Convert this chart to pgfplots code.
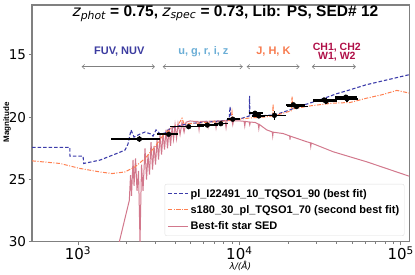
\documentclass[border=0pt]{standalone}
\usepackage{pgfplots}
\pgfplotsset{compat=1.18}
\usepackage{pgfplotstable}
\usepackage{fontspec}
\setmainfont{Liberation Sans}
\newfontfamily\dejavu{DejaVu Sans}
\usetikzlibrary{arrows.meta}
\definecolor{cblue}{RGB}{60,60,170}
\definecolor{corange}{RGB}{255,127,80}
\definecolor{cpink}{RGB}{210,120,140}
\definecolor{tfuv}{RGB}{60,60,160}
\definecolor{tugr}{RGB}{107,174,214}
\definecolor{tjhk}{RGB}{247,123,79}
\definecolor{tch}{RGB}{176,16,72}
\definecolor{frame}{RGB}{128,128,128}

\pgfplotstableread{
x y
519 22.42
891 22.42
891 23.12
1075 23.12
1085 23.71
1369 23.44
1746 22.90
1955 22.64
2041 22.15
2132 21.02
2225 21.59
2423 21.35
2602 21.19
2835 21.35
2917 21.51
3045 21.02
3225 21.35
3462 21.27
3614 21.02
3827 20.86
4290 20.66
4948 20.50
6580 20.38
8152 20.26
8634 20.22
8756 19.15
8882 20.10
10100 20.14
11003 19.98
11520 19.90
11568 18.28
11620 19.81
13440 19.89
16645 19.81
20620 19.41
23785 19.05
26170 18.95
31650 18.60
40000 18.12
48560 17.80
61000 17.40
112700 16.59
}\bluefit

\pgfplotstableread{
x y
519 23.50
773 23.71
1029 24.11
1369 24.39
1624 24.52
1955 24.39
2256 23.98
2602 23.31
3000 22.37
3318 21.56
3746 20.89
4169 20.62
4413 20.08
4542 20.54
5706 20.46
7592 20.34
8882 20.22
9006 19.57
9135 20.22
11650 20.06
14430 19.98
16050 19.90
16180 18.93
16300 19.90
20920 19.49
21220 18.36
21520 19.33
27430 19.09
38100 18.87
48560 18.82
61630 18.47
76360 18.20
94600 17.85
112700 18.06
}\orangefit

\pgfplotstableread{
x y
1803 30.0
2080 26.67
2116 24.65
2146 26.3
2193 23.43
2225 25.5
2273 23.3
2322 25.9
2372 24.3
2423 30.0
2476 23.8
2529 25.9
2602 22.5
2659 25.0
2716 23.0
2775 24.6
2835 22.0
2897 24.2
2960 22.3
3024 23.8
3090 21.8
3157 23.4
3225 21.4
3295 23.0
3365 21.3
3438 22.6
3513 21.0
3589 22.5
3667 20.9
3746 22.3
3827 20.8
3910 21.8
3995 20.6
4081 21.7
4169 20.5
4290 21.4
4413 20.4
4542 21.2
4673 20.4
4948 20.3
5314 20.34
5546 20.34
5626 21.0
5706 20.34
6300 20.32
6400 20.8
6500 20.32
7067 20.30
7169 20.85
7272 20.30
8152 20.28
8270 20.85
8388 20.28
9000 20.28
9100 20.6
9200 20.28
10100 20.30
10700 20.33
10800 20.7
10900 20.34
11500 20.38
11600 20.6
11700 20.39
12515 20.42
13100 20.55
13200 20.9
13300 20.58
14788 21.02
16000 21.18
16100 21.5
16200 21.2
18664 21.31
20500 21.50
20600 21.8
20700 21.52
26170 21.97
27500 22.05
27700 22.35
27900 22.07
38104 22.77
61630 23.58
112700 24.73
}\pinkfit

\pgfplotstableread{
x y xm xp ye
2400 21.75 800 820 0.25
3650 21.37 580 530 0.10
4850 20.76 1150 1150 0.08
6330 20.63 900 1000 0.06
7680 20.52 700 800 0.06
9100 20.16 760 1000 0.10
12500 19.68 1000 1500 0.15
13200 19.90 1200 1300 0.20
16500 19.85 2000 3000 0.35
21600 19.00 2100 4000 0.15
22600 19.15 3000 3900 0.20
33500 18.62 5000 6500 0.15
34500 18.72 6000 5800 0.25
45700 18.39 6500 8000 0.20
46400 18.52 7400 7900 0.25
}\datapts

\begin{document}
\begin{tikzpicture}
\begin{axis}[
  name=ax,
  scale only axis,
  width=377pt, height=236.7pt,
  xmode=log,
  xmin=519, xmax=113000,
  ymin=11, ymax=30,
  y dir=reverse,
  axis line style={frame, line width=1.1pt},
  every tick/.style={frame, line width=0.8pt},
  tick align=outside,
  major tick length=3.5pt,
  minor tick length=2pt,
  xtick={1000,10000,100000},
  xticklabels={10\textsuperscript{3},10\textsuperscript{4},10\textsuperscript{5}},
  ytick={15,20,25,30},
  yminorticks=false,
  xtick pos=bottom, ytick pos=left,
  /pgf/number format/assume math mode=true,
  xticklabel style={font=\dejavu\fontsize{15}{16}\selectfont, yshift=2pt},
  yticklabel style={font=\dejavu\fontsize{13.5}{15}\selectfont, xshift=1pt},
  xlabel={{\dejavu\itshape λ/(Å)}},
  xlabel style={font=\fontsize{9}{10}\selectfont, at={(axis description cs:0.552,-0.103)}, anchor=center},
  ylabel={Magnitude},
  ylabel style={font=\bfseries\fontsize{8}{9}\selectfont, at={(axis description cs:-0.066,0.505)}, anchor=center},
  legend style={at={(0.987,0.025)}, anchor=south east, draw=gray!25, rounded corners=2pt,
     fill=white, fill opacity=0.85, text opacity=1, font=\bfseries\fontsize{11}{12}\selectfont,
     inner xsep=3pt, inner ysep=3pt, row sep=2.6pt},
  legend cell align=left,
  legend image post style={xscale=1.15},
  clip=true,
]
\addplot[cpink, line width=1pt, forget plot] table[x=x,y=y] {\pinkfit};
\addplot[cblue, line width=1.1pt, dash pattern=on 3.5pt off 2pt] table[x=x,y=y] {\bluefit};
\addlegendentry{pl\_I22491\_10\_TQSO1\_90 (best fit)}
\addplot[corange, line width=1pt, dash pattern=on 4pt off 1.5pt on 1pt off 1.5pt] table[x=x,y=y] {\orangefit};
\addlegendentry{s180\_30\_pl\_TQSO1\_70 (second best fit)}
\addlegendimage{cpink, line width=1pt}
\addlegendentry{Best-fit star SED}
\addplot[only marks, mark=*, mark size=2.4pt, black, forget plot,
  error bars/.cd, x dir=both, x explicit, y dir=both, y explicit,
  error bar style={line width=1.6pt, black}, error mark=none]
  table[x=x, y=y, x error plus=xp, x error minus=xm, y error=ye] {\datapts};

\draw[frame, line width=0.6pt, {Straight Barb[length=2.5pt,width=4.5pt]}-{Straight Barb[length=2.5pt,width=4.5pt]}] (axis cs:1054,15.95) -- (axis cs:3000,15.95);
\draw[frame, line width=0.6pt, {Straight Barb[length=2.5pt,width=4.5pt]}-{Straight Barb[length=2.5pt,width=4.5pt]}] (axis cs:3350,15.95) -- (axis cs:10500,15.95);
\draw[frame, line width=0.6pt, {Straight Barb[length=2.5pt,width=4.5pt]}-{Straight Barb[length=2.5pt,width=4.5pt]}] (axis cs:11100,15.95) -- (axis cs:23600,15.95);
\draw[frame, line width=0.6pt, {Straight Barb[length=2.5pt,width=4.5pt]}-{Straight Barb[length=2.5pt,width=4.5pt]}] (axis cs:28100,15.95) -- (axis cs:52800,15.95);

\node[font=\bfseries\fontsize{11}{12}\selectfont, text=tfuv] at (axis cs:1803,14.71) {FUV, NUV};
\node[font=\bfseries\fontsize{11}{12}\selectfont, text=tugr] at (axis cs:5985,14.71) {u, g, r, i, z};
\node[font=\bfseries\fontsize{11}{12}\selectfont, text=tjhk] at (axis cs:16260,14.71) {J, H, K};
\node[font=\bfseries\fontsize{10.5}{8.8}\selectfont, text=tch, align=center, inner sep=0pt] at (axis cs:40180,14.78) {CH1, CH2\\W1, W2};

\node[font=\bfseries\fontsize{15.5}{17}\selectfont] at (axis cs:8200,11.68)
  {{\dejavu\mdseries\itshape z}\textsubscript{\dejavu\mdseries\itshape phot} = 0.75, {\dejavu\mdseries\itshape z}\textsubscript{\dejavu\mdseries\itshape spec} = 0.73, Lib: PS, SED\# 12};
\end{axis}
\pgfresetboundingbox
\path[use as bounding box] ([xshift=-32pt,yshift=-32.3pt]ax.south west) rectangle ([xshift=5.7pt,yshift=5pt]ax.north east);
\end{tikzpicture}
\end{document}
